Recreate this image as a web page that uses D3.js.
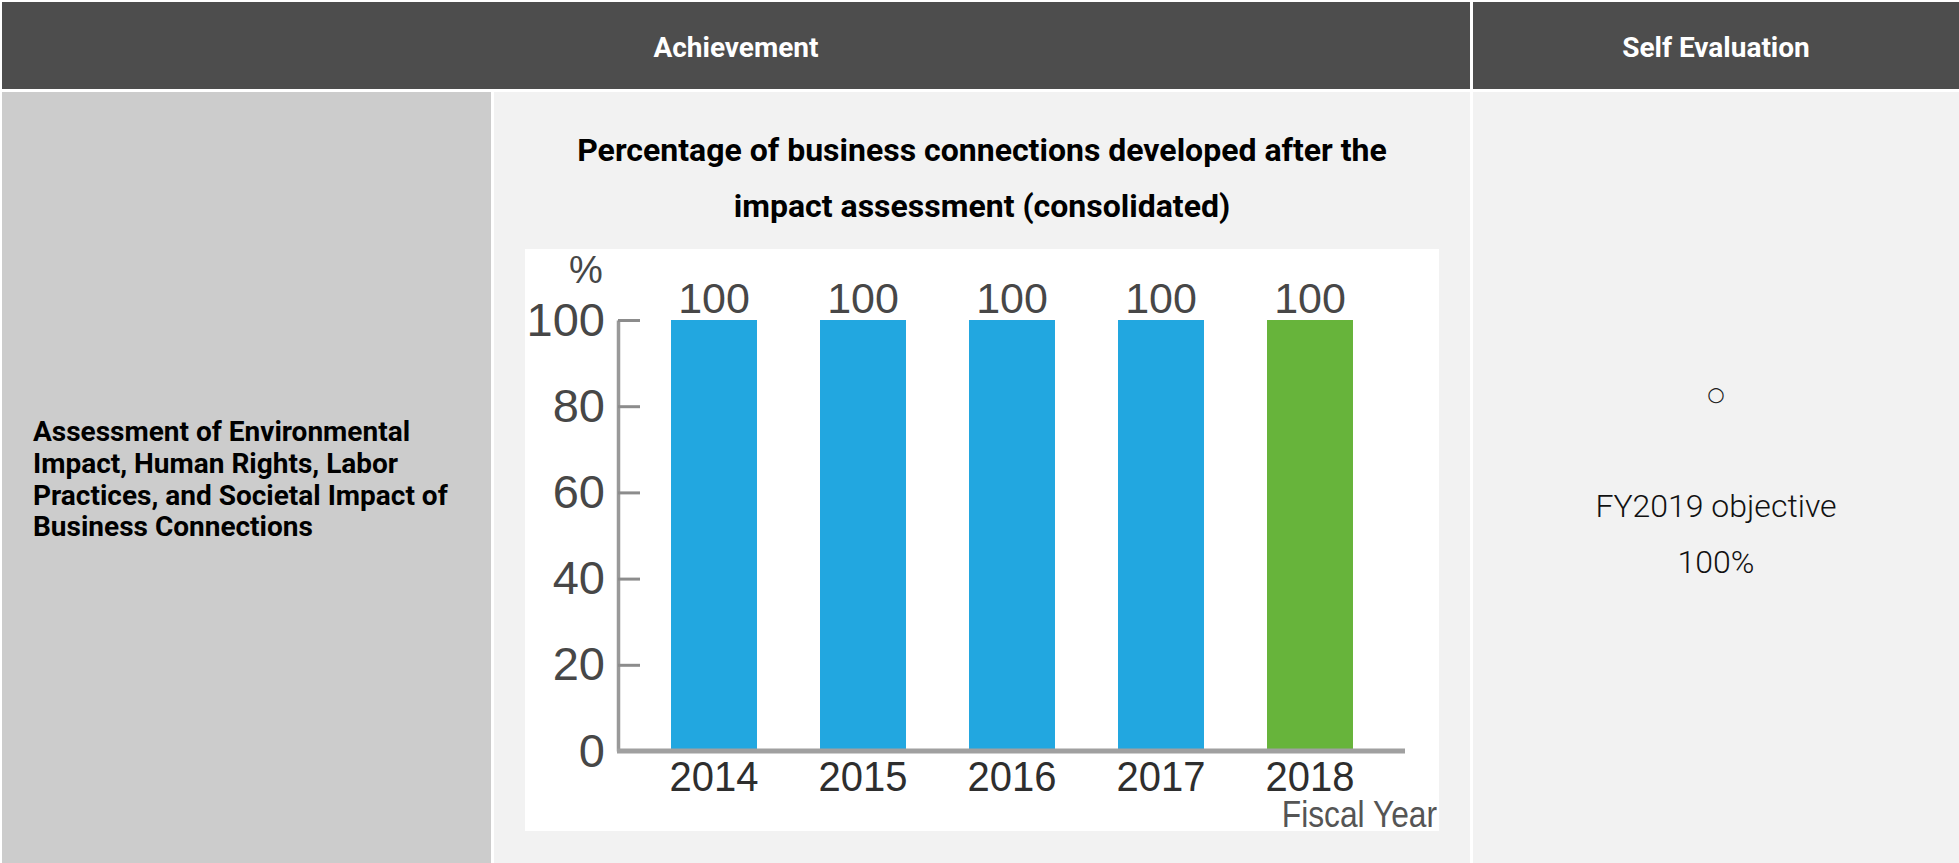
<!DOCTYPE html>
<html>
<head>
<meta charset="utf-8">
<script src="https://cdn.jsdelivr.net/npm/d3@7"></script>
<style>
  html, body { margin: 0; padding: 0; background: #ffffff; overflow: hidden; }
  svg { display: block; }
</style>
</head>
<body>
<svg id="page" width="1959" height="863"></svg>
<script>
// ---- data ----
const fiscalYears = ["2014", "2015", "2016", "2017", "2018"];
const assessedShare = [100, 100, 100, 100, 100];
const yTickValues = [0, 20, 40, 60, 80, 100];

const headerLabels = ["Achievement", "Self Evaluation"];
const chartTitle = ["Percentage of business connections developed after the",
                    "impact assessment (consolidated)"];
const itemLabel = ["Assessment of Environmental", "Impact, Human Rights, Labor",
                   "Practices, and Societal Impact of", "Business Connections"];
const evaluationMark = "○";
const evaluationNote = ["FY2019 objective", "100%"];
const yUnit = "%";
const xUnit = "Fiscal Year";

// ---- layout ----
const W = 1959, H = 863;
const svg = d3.select("#page");
const tableFont = "Roboto, 'Noto Sans', sans-serif";
const chartFont = "'Liberation Sans', Arial, sans-serif";

// table cells
const header = { y: 2, h: 87 };
const row = { y: 92, h: 772 };
const colAchv = { x: 2, w: 1468 };
const colEval = { x: 1473, w: W - 1473 };
const colItem = { x: 2, w: 489 };
const colChart = { x: 494, w: 976 };

svg.append("rect").attr("x", colAchv.x).attr("y", header.y).attr("width", colAchv.w).attr("height", header.h).attr("fill", "#4d4d4d");
svg.append("rect").attr("x", colEval.x).attr("y", header.y).attr("width", colEval.w).attr("height", header.h).attr("fill", "#4d4d4d");
svg.append("rect").attr("x", colItem.x).attr("y", row.y).attr("width", colItem.w).attr("height", row.h).attr("fill", "#cccccc");
svg.append("rect").attr("x", colChart.x).attr("y", row.y).attr("width", colChart.w).attr("height", row.h).attr("fill", "#f2f2f2");
svg.append("rect").attr("x", colEval.x).attr("y", row.y).attr("width", colEval.w).attr("height", row.h).attr("fill", "#f2f2f2");

// header captions
svg.selectAll("text.head")
  .data([{ t: headerLabels[0], cx: colAchv.x + colAchv.w / 2 }, { t: headerLabels[1], cx: colEval.x + colEval.w / 2 }])
  .join("text")
  .attr("class", "head")
  .attr("x", d => d.cx)
  .attr("y", 56.5)
  .attr("text-anchor", "middle")
  .attr("font-family", tableFont)
  .attr("font-weight", 700)
  .attr("font-size", 28)
  .attr("fill", "#ffffff")
  .text(d => d.t);

// item label (left column)
svg.append("text")
  .attr("font-family", tableFont)
  .attr("font-weight", 700)
  .attr("font-size", 28)
  .attr("fill", "#000000")
  .selectAll("tspan")
  .data(itemLabel)
  .join("tspan")
  .attr("x", 33)
  .attr("y", (d, i) => 441 + i * 31.8)
  .text(d => d);

// chart title
svg.append("text")
  .attr("text-anchor", "middle")
  .attr("font-family", tableFont)
  .attr("font-weight", 700)
  .attr("font-size", 32)
  .attr("fill", "#000000")
  .selectAll("tspan")
  .data(chartTitle)
  .join("tspan")
  .attr("x", colChart.x + colChart.w / 2)
  .attr("y", (d, i) => 161 + i * 56)
  .text(d => d);

// self evaluation
const evalCx = colEval.x + colEval.w / 2;
svg.append("text")
  .attr("x", evalCx).attr("y", 400.5)
  .attr("text-anchor", "middle")
  .attr("font-family", "'DejaVu Sans', sans-serif")
  .attr("font-size", 20)
  .attr("fill", "#222222")
  .text(evaluationMark);
svg.append("text")
  .attr("text-anchor", "middle")
  .attr("font-family", tableFont)
  .attr("font-weight", 300)
  .attr("font-size", 32)
  .attr("fill", "#111111")
  .selectAll("tspan")
  .data(evaluationNote)
  .join("tspan")
  .attr("x", evalCx)
  .attr("y", (d, i) => 517 + i * 56)
  .text(d => d);

// ---- bar chart ----
const panel = { x: 525, y: 249, w: 914, h: 582 };
svg.append("rect").attr("x", panel.x).attr("y", panel.y).attr("width", panel.w).attr("height", panel.h).attr("fill", "#ffffff");

const axisX = 618;
const y = d3.scaleLinear().domain([0, 100]).range([751, 320]);
const x = d3.scaleBand().domain(fiscalYears).range([639.5, 1384.5]).paddingInner(0.423).paddingOuter(0.2115);

const chart = svg.append("g");

// bars
chart.selectAll("rect.bar")
  .data(fiscalYears.map((yr, i) => ({ yr, v: assessedShare[i], i })))
  .join("rect")
  .attr("class", "bar")
  .attr("x", d => x(d.yr))
  .attr("y", d => y(d.v))
  .attr("width", x.bandwidth())
  .attr("height", d => y(0) - y(d.v))
  .attr("fill", d => d.i === fiscalYears.length - 1 ? "#67b43b" : "#22a7e0");

// value labels
chart.selectAll("text.val")
  .data(fiscalYears.map((yr, i) => ({ yr, v: assessedShare[i] })))
  .join("text")
  .attr("class", "val")
  .attr("x", d => x(d.yr) + x.bandwidth() / 2)
  .attr("y", d => y(d.v) - 7)
  .attr("text-anchor", "middle")
  .attr("font-family", chartFont)
  .attr("font-size", 43)
  .attr("fill", "#474747")
  .text(d => d.v);

// y axis
const yAxis = d3.axisLeft(y).tickValues(yTickValues).tickSizeInner(-22).tickSizeOuter(0).tickPadding(13);
const gy = chart.append("g").attr("transform", `translate(${axisX},0)`).call(yAxis);
gy.select(".domain").attr("stroke", "#999999").attr("stroke-width", 3.5);
gy.selectAll(".tick line").attr("stroke", "#8c8c8c").attr("stroke-width", 3);
gy.selectAll(".tick text")
  .attr("font-family", chartFont)
  .attr("font-size", 47)
  .attr("fill", "#474747");

// x axis baseline and year labels
const xAxis = d3.axisBottom(x).tickSize(0).tickPadding(9);
const gx = chart.append("g").attr("transform", `translate(0,${y(0)})`).call(xAxis);
gx.select(".domain").remove();
gx.append("line")
  .attr("x1", axisX - 1).attr("x2", 1405)
  .attr("y1", 0).attr("y2", 0)
  .attr("stroke", "#a0a0a0").attr("stroke-width", 5);
gx.selectAll(".tick text")
  .attr("font-family", chartFont)
  .attr("font-size", 43)
  .attr("fill", "#2e2e2e")
  .attr("dy", "0.72em")
  .each(function () {
    const t = d3.select(this);
    const cx = +t.attr("x") || 0;
    t.attr("transform", "scale(0.93,1)").attr("x", cx / 0.93);
  });

// axis units
chart.append("text")
  .attr("x", 586).attr("y", 283)
  .attr("text-anchor", "middle")
  .attr("font-family", chartFont)
  .attr("font-size", 38)
  .attr("fill", "#474747")
  .text(yUnit);

chart.append("text")
  .attr("transform", "translate(1437,827) scale(0.87,1)")
  .attr("text-anchor", "end")
  .attr("font-family", chartFont)
  .attr("font-size", 36.5)
  .attr("fill", "#555555")
  .text(xUnit);
</script>
</body>
</html>
